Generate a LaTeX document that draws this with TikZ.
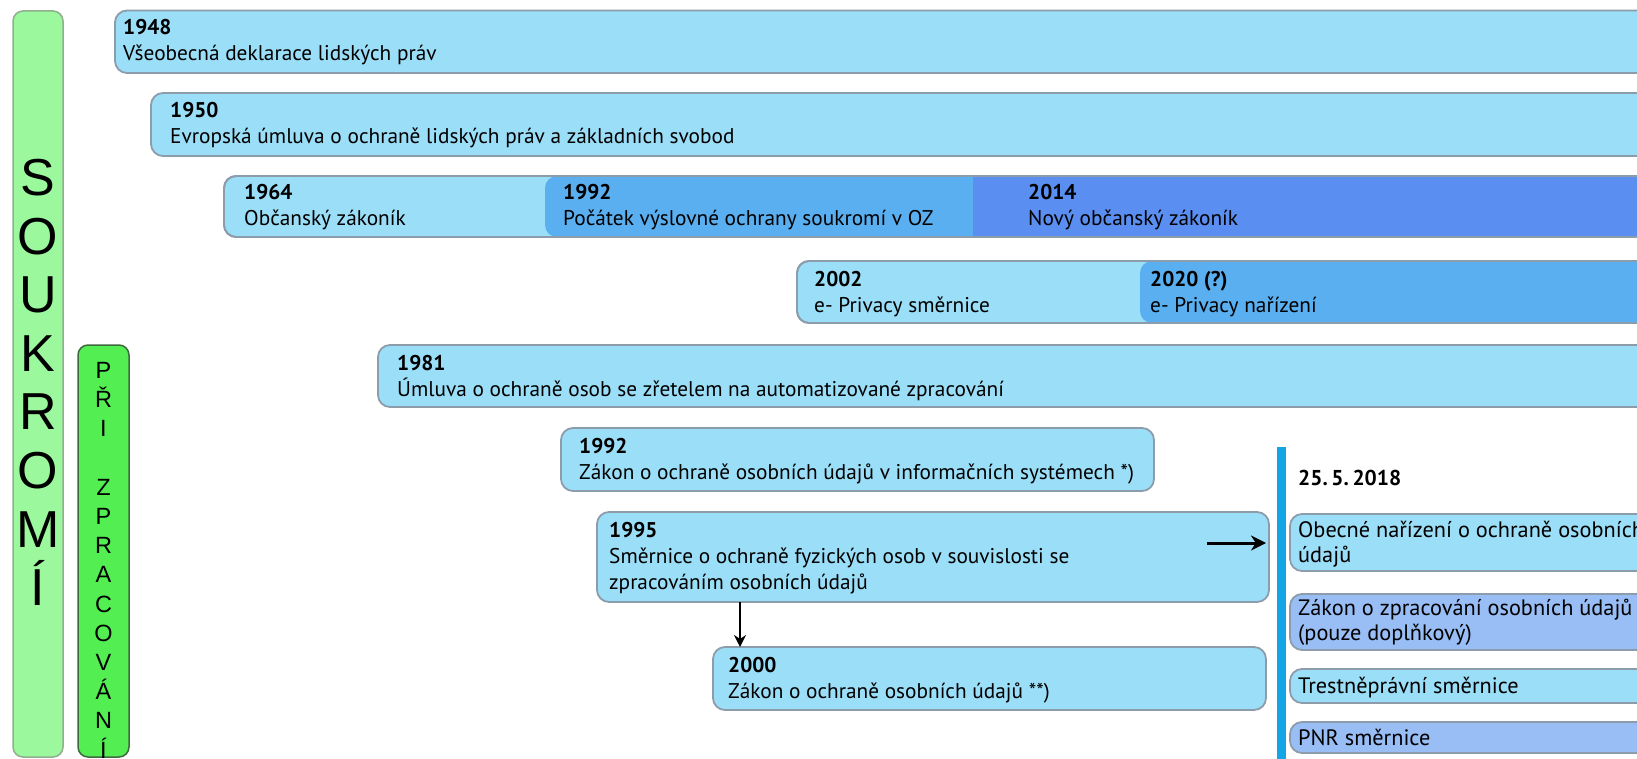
\documentclass[tikz,border=0pt]{standalone}
\usepackage{fontspec}
\setmainfont{PT Sans}
\newfontfamily\arialf{Liberation Sans}
\usetikzlibrary{arrows.meta}
\definecolor{lb}{HTML}{9BDEF7}
\definecolor{mb}{HTML}{5AAFF0}
\definecolor{db}{HTML}{5A8EF0}
\definecolor{pb}{HTML}{98BEF5}
\definecolor{bord}{HTML}{8C9CAA}
\definecolor{vline}{HTML}{14A5E6}
\definecolor{gl}{HTML}{9CF89C}
\definecolor{glb}{HTML}{8FAF8F}
\definecolor{gd}{HTML}{52EE52}
\definecolor{gdb}{HTML}{3F6A3F}
\begin{document}
\begin{tikzpicture}[x=1pt,y=-1pt,
  rowbox/.style={draw=bord, line width=1.8pt, fill=lb, rounded corners=12pt, outer sep=0pt, inner sep=0pt, anchor=north west},
  segfill/.style={rounded corners=12pt},
  yr/.style={font=\fontsize{21.3}{24}\selectfont\bfseries, anchor=base west, inner sep=0pt},
  txt/.style={font=\fontsize{21.3}{24}\selectfont, anchor=base west, inner sep=0pt},
  rtxt/.style={font=\fontsize{22.3}{26}\selectfont, anchor=base west, inner sep=0pt},
  bigl/.style={font=\arialf\fontsize{52}{52}\selectfont, anchor=base, inner sep=0pt},
  smalll/.style={font=\arialf\fontsize{23.5}{24}\selectfont, anchor=base, inner sep=0pt},
  arr/.style={-{Stealth[length=12pt,width=12pt]}, line width=2pt},
]
\useasboundingbox (0,0) rectangle (1637,759);

% green vertical bars
\node[draw=glb, fill=gl, line width=1.5pt, rounded corners=10pt, minimum width=50, minimum height=746, anchor=north west, inner sep=0pt, outer sep=0pt] (soukbar) at (13,11) {};
\node[draw=gdb, fill=gd, line width=1.5pt, rounded corners=10pt, minimum width=51, minimum height=412, anchor=north west, inner sep=0pt, outer sep=0pt] (pribar) at (78,345) {};

\foreach \l [count=\i from 0] in {S,O,U,K,R,O,M,Í}
  \node[bigl] (s\i) at (38,{177+58.6*\i+18.5}) {\l};

\foreach \l/\i in {P/0,Ř/1,I/2,Z/4,P/5,R/6,A/7,C/8,O/9,V/10,Á/11,N/12,Í/13}
  \node[smalll] (p\i) at (103.5,{370+29.2*\i+8.5}) {\l};

% 1948
\node[rowbox, minimum width=1560, minimum height=62.5] (r1948) at (115,10.5) {};
\node[yr] (y1948) at (123,35) {1948};
\node[txt] (t1948) at (123,61) {Všeobecná deklarace lidských práv};

% 1950
\node[rowbox, minimum width=1520, minimum height=63] (r1950) at (151,93) {};
\node[yr] (y1950) at (170,118) {1950};
\node[txt] (t1950) at (170,144) {Evropská úmluva o ochraně lidských práv a základních svobod};

% 1964 / 1992 / 2014
\node[rowbox, minimum width=1450, minimum height=61] (r1964) at (224,176) {};
\begin{scope}
  \clip[rounded corners=12pt] (r1964.north west) rectangle (r1964.south east);
  \fill[mb, segfill] (545,176) rectangle (1700,237);
  \fill[db] (973,170) rectangle (1700,245);
\end{scope}
\draw[draw=bord, line width=1.8pt, rounded corners=12pt] (r1964.north west) rectangle (r1964.south east);
\node[yr] (y1964) at (244,200) {1964};
\node[txt] (t1964) at (244,226) {Občanský zákoník};
\node[yr] (y1992a) at (563,200) {1992};
\node[txt] (t1992a) at (563,226) {Počátek výslovné ochrany soukromí v OZ};
\node[yr] (y2014) at (1028,200) {2014};
\node[txt] (t2014) at (1028,226) {Nový občanský zákoník};

% 2002 / 2020
\node[rowbox, minimum width=880, minimum height=62] (r2002) at (797,261) {};
\begin{scope}
  \clip[rounded corners=12pt] (r2002.north west) rectangle (r2002.south east);
  \fill[mb, segfill] (1140,261) rectangle (1700,323);
\end{scope}
\draw[draw=bord, line width=1.8pt, rounded corners=12pt] (r2002.north west) rectangle (r2002.south east);
\node[yr] (y2002) at (814,286) {2002};
\node[txt] (t2002) at (814,312) {e- Privacy směrnice};
\node[yr] (y2020) at (1150,286) {2020 (?)};
\node[txt] (t2020) at (1150,312) {e- Privacy nařízení};

% 1981
\node[rowbox, minimum width=1300, minimum height=62] (r1981) at (378,345) {};
\node[yr] (y1981) at (397,370) {1981};
\node[txt] (t1981) at (397,396) {Úmluva o ochraně osob se zřetelem na automatizované zpracování};

% 1992 zakon
\node[rowbox, minimum width=593, minimum height=63] (r1992) at (561,428) {};
\node[yr] (y1992b) at (579,453) {1992};
\node[txt] (t1992b) at (579,479) {Zákon o ochraně osobních údajů v informačních systémech *)};

% 1995
\node[rowbox, minimum width=672, minimum height=90] (r1995) at (597,512) {};
\node[yr] (y1995) at (609,537) {1995};
\node[txt] (t1995a) at (609,563) {Směrnice o ochraně fyzických osob v souvislosti se};
\node[txt] (t1995b) at (609,589) {zpracováním osobních údajů};

% 2000
\node[rowbox, minimum width=553, minimum height=63] (r2000) at (713,647) {};
\node[yr] (y2000) at (728,672) {2000};
\node[txt] (t2000) at (728,698) {Zákon o ochraně osobních údajů **)};

% blue line
\node[fill=vline, minimum width=9, minimum height=320, inner sep=0pt, outer sep=0pt, anchor=north west] (gline) at (1277,447) {};

% right side
\node[font=\fontsize{21.5}{24}\selectfont\bfseries, anchor=base west, inner sep=0pt] (date) at (1298,485) {25.\,5.\,2018};
\node[rowbox, minimum width=380, minimum height=57] (gdpr) at (1290,514) {};
\node[rtxt] (tg1) at (1298,537) {Obecné nařízení o ochraně osobních};
\node[rtxt] (tg2) at (1298,562) {údajů};
\node[rowbox, fill=pb, minimum width=380, minimum height=56] (zoz) at (1290,594) {};
\node[rtxt] (tz1) at (1298,615) {Zákon o zpracování osobních údajů};
\node[rtxt] (tz2) at (1298,640) {(pouze doplňkový)};
\node[rowbox, minimum width=380, minimum height=34] (trest) at (1290,669) {};
\node[rtxt] (tt) at (1298,693) {Trestněprávní směrnice};
\node[rowbox, fill=pb, minimum width=380, minimum height=31] (pnr) at (1290,722) {};
\node[rtxt] (tp) at (1298,745) {PNR směrnice};

% arrows
\coordinate (ra) at (1207,543);
\draw[arr, line width=3pt, -{Stealth[length=15pt,width=15pt]}] (ra) -- ([xshift=-11pt]gline.west |- ra);
\coordinate (da) at (740,602);
\draw[arr] (da) -- (r2000.north -| da);
\end{tikzpicture}
\end{document}
